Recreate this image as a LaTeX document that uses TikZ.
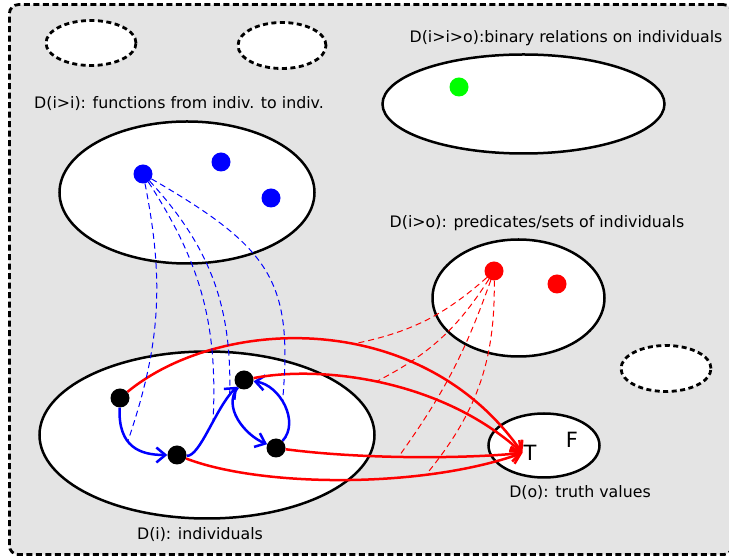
\documentclass[tikz,border=0pt]{standalone}
\usepackage{fontspec}
\setmainfont{DejaVu Sans}
\usetikzlibrary{shapes.geometric,arrows.meta}

\definecolor{bggray}{HTML}{E4E4E4}
\tikzstyle{domset} = [ellipse, draw=black, line width=2.5pt, fill=white, inner sep=0pt]
\tikzstyle{spareset} = [ellipse, draw=black, line width=2.8pt, dash pattern=on 5pt off 3.5pt, fill=white, inner sep=0pt]
\tikzstyle{elem} = [circle, inner sep=0pt, minimum size=19pt]
\tikzstyle{dlabel} = [font=\fontsize{15.8}{18}\selectfont, inner sep=0pt]
\tikzstyle{maparrow} = [line width=2.5pt, -{Straight Barb[length=9pt,width=15pt]}]
\tikzstyle{linkline} = [line width=1pt, dash pattern=on 6pt off 4pt]

\begin{document}
\begin{tikzpicture}[x=1pt,y=1pt]
\useasboundingbox (0,0) rectangle (729,557);
\node (frame) [draw=black, fill=bggray, line width=2.8pt, dash pattern=on 6pt off 3.5pt, rounded corners=9pt, minimum width=723pt, minimum height=550pt, anchor=south west, inner sep=0pt] at (8,1) {};

% empty domains
\node (spare1) [spareset, minimum width=90pt, minimum height=45pt] at (91,514) {};
\node (spare2) [spareset, minimum width=88pt, minimum height=46pt] at (282,511.5) {};
\node (spare3) [spareset, minimum width=90pt, minimum height=46pt] at (666,188.5) {};

% domains
\node (rel) [domset, minimum width=282pt, minimum height=99pt] at (523.5,453) {};
\node (fun) [domset, minimum width=255pt, minimum height=142pt] at (187,364.5) {};
\node (pred) [domset, minimum width=172pt, minimum height=117pt] at (518.5,259) {};
\node (ind) [domset, minimum width=335pt, minimum height=167pt] at (207,122) {};
\node (tv) [domset, minimum width=111pt, minimum height=64pt] at (544,111.5) {};

\node (rellabel) [dlabel] at (566,519) {D(i>i>o):binary relations on individuals};
\node (funlabel) [dlabel] at (179,453) {D(i>i): functions from indiv. to indiv.};
\node (predlabel) [dlabel] at (537,334) {D(i>o): predicates/sets of individuals};
\node (indlabel) [dlabel] at (200,22) {D(i): individuals};
\node (tvlabel) [dlabel] at (580,64) {D(o): truth values};
\node (T) [font=\fontsize{21}{21}\selectfont, inner sep=1pt] at (530,104) {T};
\node (F) [font=\fontsize{21}{21}\selectfont, inner sep=1pt] at (572,117) {F};

% elements
\node (r1) [elem, fill=green] at (459,470) {};
\node (f1) [elem, fill=blue] at (143,383) {};
\node (f2) [elem, fill=blue] at (221,395) {};
\node (f3) [elem, fill=blue] at (271,359) {};
\node (p1) [elem, fill=red] at (494,286) {};
\node (p2) [elem, fill=red] at (557,273) {};
\node (i1) [elem, fill=black] at (120,159) {};
\node (i2) [elem, fill=black] at (177,102) {};
\node (i3) [elem, fill=black] at (244,177) {};
\node (i4) [elem, fill=black] at (276,109) {};

% the function
\draw [maparrow, blue] (i1) .. controls +(-2,-49) and +(-37,0) .. (i2) coordinate[pos=0.4] (m1);
\draw [maparrow, blue] (i2) .. controls +(23,-2) and +(-28,-27) .. (i3) coordinate[pos=0.58] (m2) coordinate[pos=0.88] (m3);
\draw [maparrow, blue] (i3) .. controls +(-22,-27) and +(-31,13) .. (i4);
\draw [maparrow, blue] (i4) .. controls +(24,26) and +(36,-5) .. (i3) coordinate[pos=0.55] (m4);

% the predicate
\draw [maparrow, red] (i1) .. controls +(100,82) and +(-102,145) .. (T.west) coordinate[pos=0.57] (n1);
\draw [maparrow, red] (i3) .. controls +(76,15) and +(-82,74) .. (T.west) coordinate[pos=0.48] (n2);
\draw [maparrow, red] (i4) .. controls +(84,-11) and +(-62,-6) .. (T.west) coordinate[pos=0.46] (n3);
\draw [maparrow, red] (i2) .. controls +(83,-32) and +(-102,-36) .. (T.west) coordinate[pos=0.72] (n4);

% links
\draw [linkline, blue] (f1) to[bend left=15] (m1);
\draw [linkline, blue] (f1) to[bend left=18] (m2);
\draw [linkline, blue] (f1) to[bend left=22] (m3);
\draw [linkline, blue] (f1) .. controls +(-30:150) and +(85:120) .. (m4);
\draw [linkline, red] (p1) to[bend left=15] (n1);
\draw [linkline, red] (p1) to[bend left=15] (n2);
\draw [linkline, red] (p1) to[bend left=8] (n3);
\draw [linkline, red] (p1) to[bend left=20] (n4);

\end{tikzpicture}
\end{document}
